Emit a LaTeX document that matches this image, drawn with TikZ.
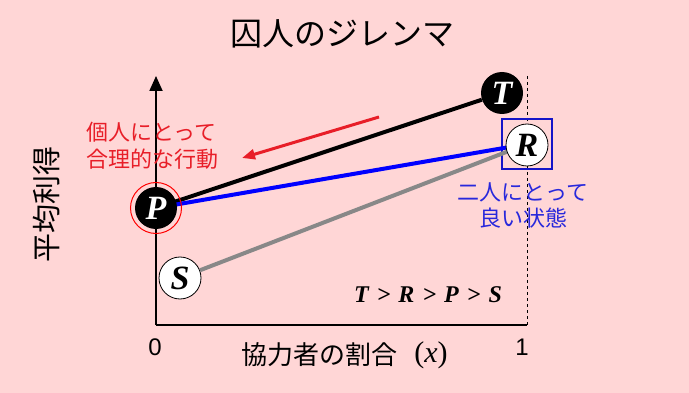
\documentclass[tikz,border=0pt]{standalone}
\usepackage{fontspec}
\setmainfont{Liberation Sans}
\newfontfamily\jpf{Noto Sans CJK JP}
\newfontfamily\tms{Liberation Serif}
\usetikzlibrary{arrows.meta}
\definecolor{bgpink}{RGB}{255,214,214}
\definecolor{txtred}{RGB}{232,30,40}
\definecolor{txtblue}{RGB}{40,40,220}
\definecolor{boxblue}{RGB}{20,20,200}
\definecolor{linegray}{RGB}{136,136,136}
\newcommand{\dotletter}[1]{\fontsize{34}{34}\selectfont\tms\bfseries\itshape #1}
\tikzset{
  dot/.style={circle, inner sep=0pt, minimum size=42pt},
  blackdot/.style={dot, fill=black, text=white},
  whitedot/.style={dot, fill=white, draw=black, line width=0.8pt, text=black},
  payline/.style={line width=4pt},
  axisline/.style={line width=1.8pt, draw=black},
}
\newcommand{\gsp}{\hspace{8pt}}
\begin{document}
\begin{tikzpicture}[x=1pt, y=-1pt]
\fill[bgpink] (0,0) rectangle (689,393);
\useasboundingbox (0,0) rectangle (689,393);
% title
\node[font=\jpf\fontsize{32}{32}\selectfont] (title) at (342,34) {囚人のジレンマ};
% axes
\coordinate (O) at (156,325);
\coordinate (Ytop) at (156,76);
\coordinate (Xend) at (527,325);
\coordinate (Dtop) at (527,76);
\draw[black, line width=0.8pt, dash pattern=on 3pt off 3pt] (Dtop) -- (Xend);
\draw[axisline] (O) -- (Xend);
\draw[axisline, -{Triangle[length=15pt,width=13pt]}] (O) -- (Ytop);
% nodes
\node[blackdot] (T) at (502,93) {\dotletter{T}};
\node[draw=boxblue, line width=2pt, minimum size=50pt, inner sep=0pt] (Rbox) at (527,144) {};
\node[whitedot] (S) at (180,278) {\dotletter{S}};
% lines
\draw[payline, black] (156,208) -- (T);
\draw[payline, blue] (156,208) -- (Rbox.center);
\draw[payline, linegray] (S) -- (Rbox.center);
\node[whitedot] (R) at (527,145) {\dotletter{R}};
\node[blackdot] (P) at (156,208) {\dotletter{P}};
\node[circle, draw=red, line width=1pt, minimum size=51pt, inner sep=0pt] (Pring) at (P) {};
% red arrow
\coordinate (Astart) at (379,117);
\coordinate (Aend) at (242,158);
\draw[txtred, line width=3pt, -{Triangle[length=13pt,width=10pt]}] (Astart) -- (Aend);
% texts
\node[text=txtred, align=left, font=\jpf\fontsize{22}{27}\selectfont] (rat) at (152,146) {個人にとって\\合理的な行動};
\node[text=txtblue, align=center, font=\jpf\fontsize{22}{26}\selectfont] (good) at (523,205) {二人にとって\\良い状態};
\node[font=\tms\bfseries\itshape\fontsize{24}{24}\selectfont] (ineq) at (428,295) {T\gsp>\gsp R\gsp>\gsp P\gsp>\gsp S};
\node[font=\fontsize{24}{24}\selectfont] (zero) at (155,347) {0};
\node[font=\fontsize{24}{24}\selectfont] (one) at (522,347) {1};
\node[font=\jpf\fontsize{26}{26}\selectfont] (xlab) at (319,355) {協力者の割合};
\node[font=\tms\fontsize{30}{30}\selectfont] (xvar) at (431,355) {(\textit{x})};
\node[rotate=90, font=\jpf\fontsize{29}{29}\selectfont] (ylab) at (47,204) {平均利得};
\end{tikzpicture}
\end{document}
